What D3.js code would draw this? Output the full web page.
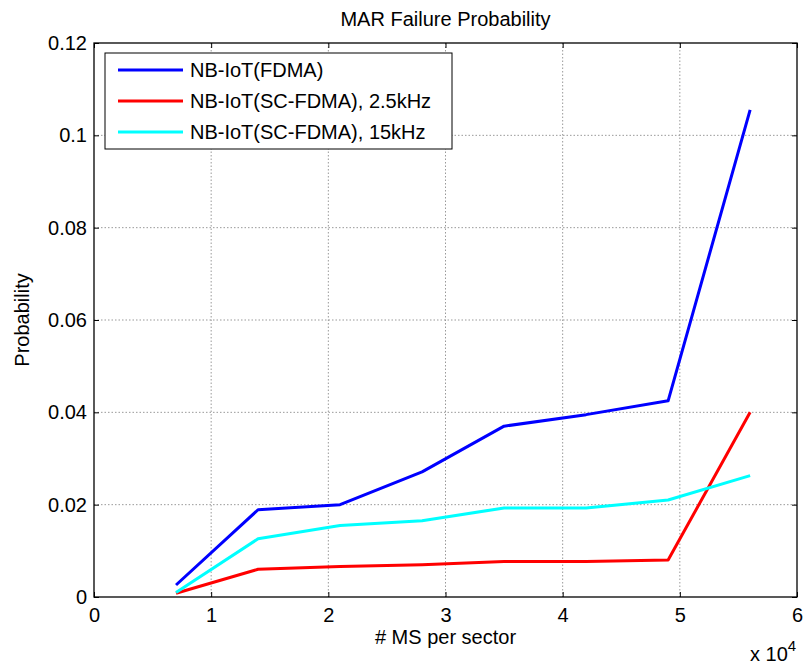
<!DOCTYPE html>
<html>
<head>
<meta charset="utf-8">
<script src="https://cdn.jsdelivr.net/npm/d3@7"></script>
<style>
  body { margin: 0; background: #fff; }
  svg { font-family: "Liberation Sans", Arial, sans-serif; }
  .grid line { stroke: #999; stroke-dasharray: 1.5 2; stroke-width: 1; }
</style>
</head>
<body>
<div id="chart"></div>
<script>
// data
const msPerSector = [7000, 14000, 21000, 28000, 35000, 42000, 49000, 56000]
const fdma = [0.0026, 0.0189, 0.0200, 0.0271, 0.0370, 0.0395, 0.0425, 0.1055]
const scfdma25 = [0.0008, 0.0060, 0.0066, 0.0070, 0.0077, 0.0077, 0.0080, 0.0400]
const scfdma15 = [0.0010, 0.0126, 0.0155, 0.0165, 0.0193, 0.0193, 0.0210, 0.0263]
const seriesNames = ['NB-IoT(FDMA)', 'NB-IoT(SC-FDMA), 2.5kHz', 'NB-IoT(SC-FDMA), 15kHz']
const seriesColors = ['#0000ff', '#ff0000', '#00ffff']
const xTicks = [0, 1, 2, 3, 4, 5, 6]
const yTicks = [0, 0.02, 0.04, 0.06, 0.08, 0.1, 0.12]

const W = 805, H = 666
const margin = { top: 43, right: 8, bottom: 69, left: 94 }
const width = W - margin.left - margin.right
const height = H - margin.top - margin.bottom
const fs = 20

const svg = d3.select('#chart').append('svg').attr('width', W).attr('height', H)
const g = svg.append('g').attr('transform', `translate(${margin.left},${margin.top})`)

const x = d3.scaleLinear().domain([0, 60000]).range([0, width])
const y = d3.scaleLinear().domain([0, 0.12]).range([height, 0])

// grid
const grid = g.append('g').attr('class', 'grid')
grid.selectAll('.gx').data(xTicks.slice(1, -1)).enter().append('line')
  .attr('x1', d => x(d * 1e4)).attr('x2', d => x(d * 1e4))
  .attr('y1', 0).attr('y2', height)
grid.selectAll('.gy').data(yTicks.slice(1, -1)).enter().append('line')
  .attr('y1', d => y(d)).attr('y2', d => y(d))
  .attr('x1', 0).attr('x2', width)

// axes
const fmtY = d => d === 0 ? '0' : String(+d.toFixed(2))
const axisStyle = sel => {
  sel.select('.domain').remove()
  sel.selectAll('text').attr('font-size', fs).attr('fill', '#000')
  sel.selectAll('line').attr('stroke', '#000')
}
g.append('g').attr('transform', `translate(0,${height})`)
  .call(d3.axisBottom(x).tickValues(xTicks.map(d => d * 1e4)).tickFormat(d => d / 1e4).tickSize(-5).tickPadding(11))
  .call(axisStyle)
g.append('g')
  .call(d3.axisTop(x).tickValues(xTicks.map(d => d * 1e4)).tickFormat('').tickSize(-5))
  .call(axisStyle)
g.append('g')
  .call(d3.axisLeft(y).tickValues(yTicks).tickFormat(fmtY).tickSize(-5).tickPadding(7))
  .call(axisStyle)
g.append('g').attr('transform', `translate(${width},0)`)
  .call(d3.axisRight(y).tickValues(yTicks).tickFormat('').tickSize(-5))
  .call(axisStyle)

g.append('rect').attr('width', width).attr('height', height)
  .attr('fill', 'none').attr('stroke', '#000').attr('stroke-width', 1.3)

// lines
const line = d3.line().x((d, i) => x(msPerSector[i])).y(d => y(d))
const allSeries = [fdma, scfdma25, scfdma15]
g.selectAll('.series').data(allSeries).enter().append('path')
  .attr('d', line)
  .attr('fill', 'none')
  .attr('stroke', (d, i) => seriesColors[i])
  .attr('stroke-width', 3)
  .attr('stroke-linejoin', 'round')

// legend
const leg = g.append('g').attr('transform', 'translate(11,10)')
leg.append('rect').attr('width', 347).attr('height', 96)
  .attr('fill', '#fff').attr('stroke', '#000').attr('stroke-width', 1)
seriesNames.forEach((name, i) => {
  const yy = 17 + i * 31
  leg.append('line').attr('x1', 13).attr('x2', 78).attr('y1', yy).attr('y2', yy)
    .attr('stroke', seriesColors[i]).attr('stroke-width', 3)
  leg.append('text').attr('x', 85).attr('y', yy + 7).attr('font-size', fs).text(name)
})

// labels
svg.append('text').attr('x', margin.left + width / 2).attr('y', 26)
  .attr('text-anchor', 'middle').attr('font-size', fs).text('MAR Failure Probability')
svg.append('text').attr('x', margin.left + width / 2).attr('y', 644)
  .attr('text-anchor', 'middle').attr('font-size', fs).text('# MS per sector')
svg.append('text').attr('transform', `translate(29,${margin.top + height / 2}) rotate(-90)`)
  .attr('text-anchor', 'middle').attr('font-size', fs).text('Probability')
const exp = svg.append('text').attr('x', 750).attr('y', 661).attr('font-size', fs)
exp.append('tspan').text('x 10')
exp.append('tspan').attr('dy', -10).attr('font-size', 15).text('4')
</script>
</body>
</html>
